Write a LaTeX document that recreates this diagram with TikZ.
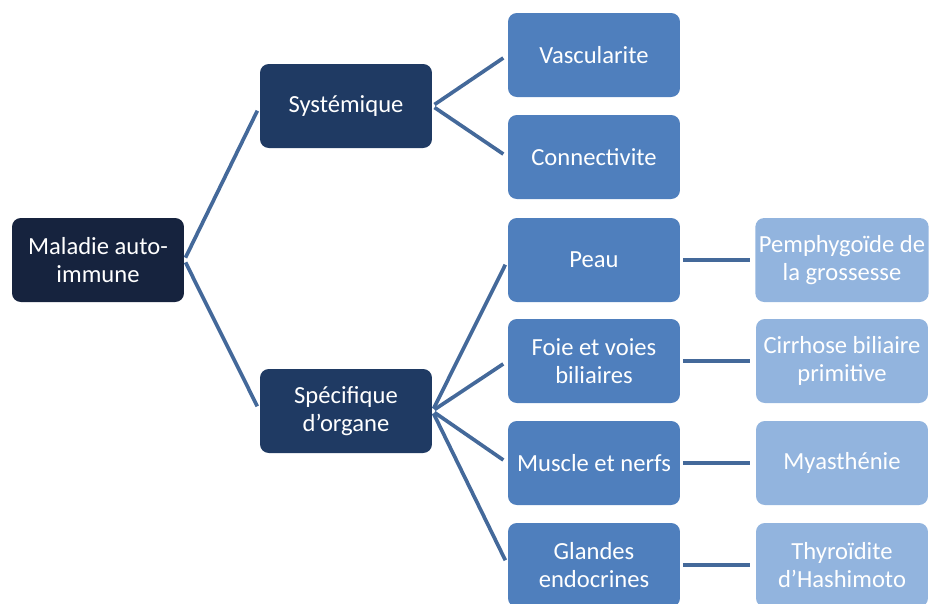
\documentclass[tikz,border=0pt]{standalone}
\usepackage{fontspec}
\setmainfont{Carlito}
\usepackage{tikz}
\usetikzlibrary{positioning}

\definecolor{navyA}{HTML}{16233E}
\definecolor{navyB}{HTML}{1F3A63}
\definecolor{blueC}{HTML}{4F7FBD}
\definecolor{blueD}{HTML}{92B4DE}
\definecolor{linkC}{HTML}{44699A}

\begin{document}
\begin{tikzpicture}[x=0.02cm, y=-0.02cm,
    box/.style={rectangle, rounded corners=5pt, minimum width=3.44cm,
      minimum height=1.68cm, align=center, text=white,
      font=\fontsize{14}{16}\selectfont, inner sep=2pt},
    lvl0/.style={box, fill=navyA},
    lvl1/.style={box, fill=navyB},
    lvl2/.style={box, fill=blueC},
    lvl3/.style={box, fill=blueD},
    link/.style={draw=linkC, line width=2.1pt, shorten <=1.5pt, shorten >=3pt}]
    \useasboundingbox (0,0) rectangle (929,603);
    \clip (0,0) rectangle (929,603);
    \node[lvl0] (m0) at (98,260) {Maladie auto-\\immune};
    \node[lvl1] (s0) at (346,106) {Systémique};
    \node[lvl1] (s1) at (346,411) {Spécifique\\d’organe};
    \node[lvl2] (c0) at (594,55) {Vascularite};
    \node[lvl2] (c1) at (594,157) {Connectivite};
    \node[lvl2] (c2) at (594,260) {Peau};
    \node[lvl2] (c3) at (594,361) {Foie et voies\\biliaires};
    \node[lvl2] (c4) at (594,463) {Muscle et nerfs};
    \node[lvl2] (c5) at (594,565) {Glandes\\endocrines};
    \node[lvl3] (r0) at (842,260) {Pemphygoïde de\\la grossesse};
    \node[lvl3] (r1) at (842,361) {Cirrhose biliaire\\primitive};
    \node[lvl3] (r2) at (842,463) {Myasthénie};
    \node[lvl3] (r3) at (842,565) {Thyroïdite\\d’Hashimoto};
    \draw[link] (m0.east) -- (s0.west);
    \draw[link] (m0.east) -- (s1.west);
    \draw[link] (s0.east) -- (c0.west);
    \draw[link] (s0.east) -- (c1.west);
    \foreach \i in {2,3,4,5} {
      \draw[link] (s1.east) -- (c\i.west);
    }
    \draw[link] (c2) -- (r0); \draw[link] (c3) -- (r1);
    \draw[link] (c4) -- (r2); \draw[link] (c5) -- (r3);
  \end{tikzpicture}
\end{document}
